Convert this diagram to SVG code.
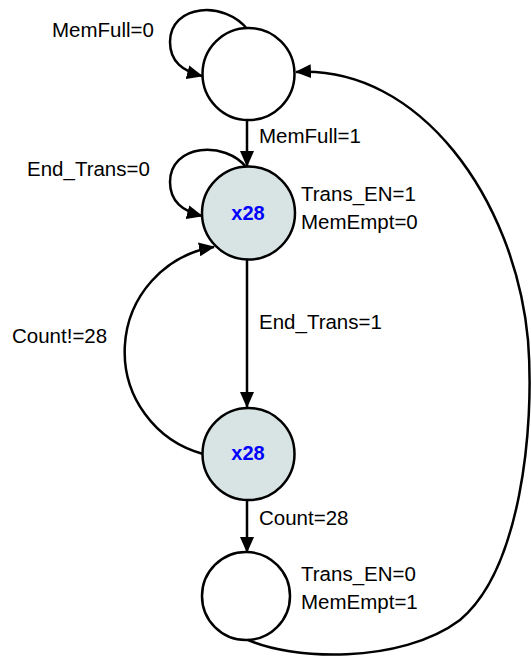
<svg xmlns="http://www.w3.org/2000/svg" width="531" height="657" viewBox="0 0 531 657">
<style>
.st{fill:#fff;stroke:#000;stroke-width:2.5}
.sh{fill:#d8e3e3;stroke:#000;stroke-width:2.5}
.c{fill:none;stroke:#000;stroke-width:2.5}
text{font-family:"Liberation Sans",Arial,sans-serif;font-size:20.5px;fill:#000}
.x{font-weight:bold;font-size:20px;fill:#0000ff;text-anchor:middle}
</style>
<defs>
<marker id="b" markerWidth="16" markerHeight="14" viewBox="0 0 16 14" refX="15" refY="7" orient="auto" markerUnits="userSpaceOnUse">
<path d="M0,0 L16,7 L0,14 z" fill="#000"/>
</marker>
</defs>
<g id="connectors">
<path class="c" d="M247,120 L247,166" marker-end="url(#b)"/>
<path class="c" d="M247,260 L247,407" marker-end="url(#b)"/>
<path class="c" d="M247,500 L247,552" marker-end="url(#b)"/>
<path class="c" d="M248,30 C225,0 170,4 170,42 C170,62 183,71 202,76" marker-end="url(#b)"/>
<path class="c" d="M247,168 C225,140 170,144 170,182 C170,202 183,211 202,216" marker-end="url(#b)"/>
<path class="c" d="M203,454 A106,106 0 0 1 214,247" marker-end="url(#b)"/>
<path class="c" d="M246,639 C290,660 400,665 460,620 C520,570 535,430 528,340 C515,200 420,65 296,72" marker-end="url(#b)"/>
</g>
<g id="s0"><circle class="st" cx="248.5" cy="74" r="46"/></g>
<g id="s1"><circle class="sh" cx="248.5" cy="213" r="46.5"/><text class="x" x="248" y="220">x28</text></g>
<g id="s2"><circle class="sh" cx="248.5" cy="454" r="46"/><text class="x" x="248" y="460">x28</text></g>
<g id="s3"><circle class="st" cx="246" cy="596" r="44"/></g>
<g id="labels">
<text x="52" y="37">MemFull=0</text>
<text x="259" y="143">MemFull=1</text>
<text x="27" y="176">End_Trans=0</text>
<text x="301" y="201">Trans_EN=1</text>
<text x="301" y="229">MemEmpt=0</text>
<text x="259" y="329">End_Trans=1</text>
<text x="12" y="343">Count!=28</text>
<text x="259" y="525">Count=28</text>
<text x="301" y="581">Trans_EN=0</text>
<text x="301" y="609">MemEmpt=1</text>
</g>
</svg>
